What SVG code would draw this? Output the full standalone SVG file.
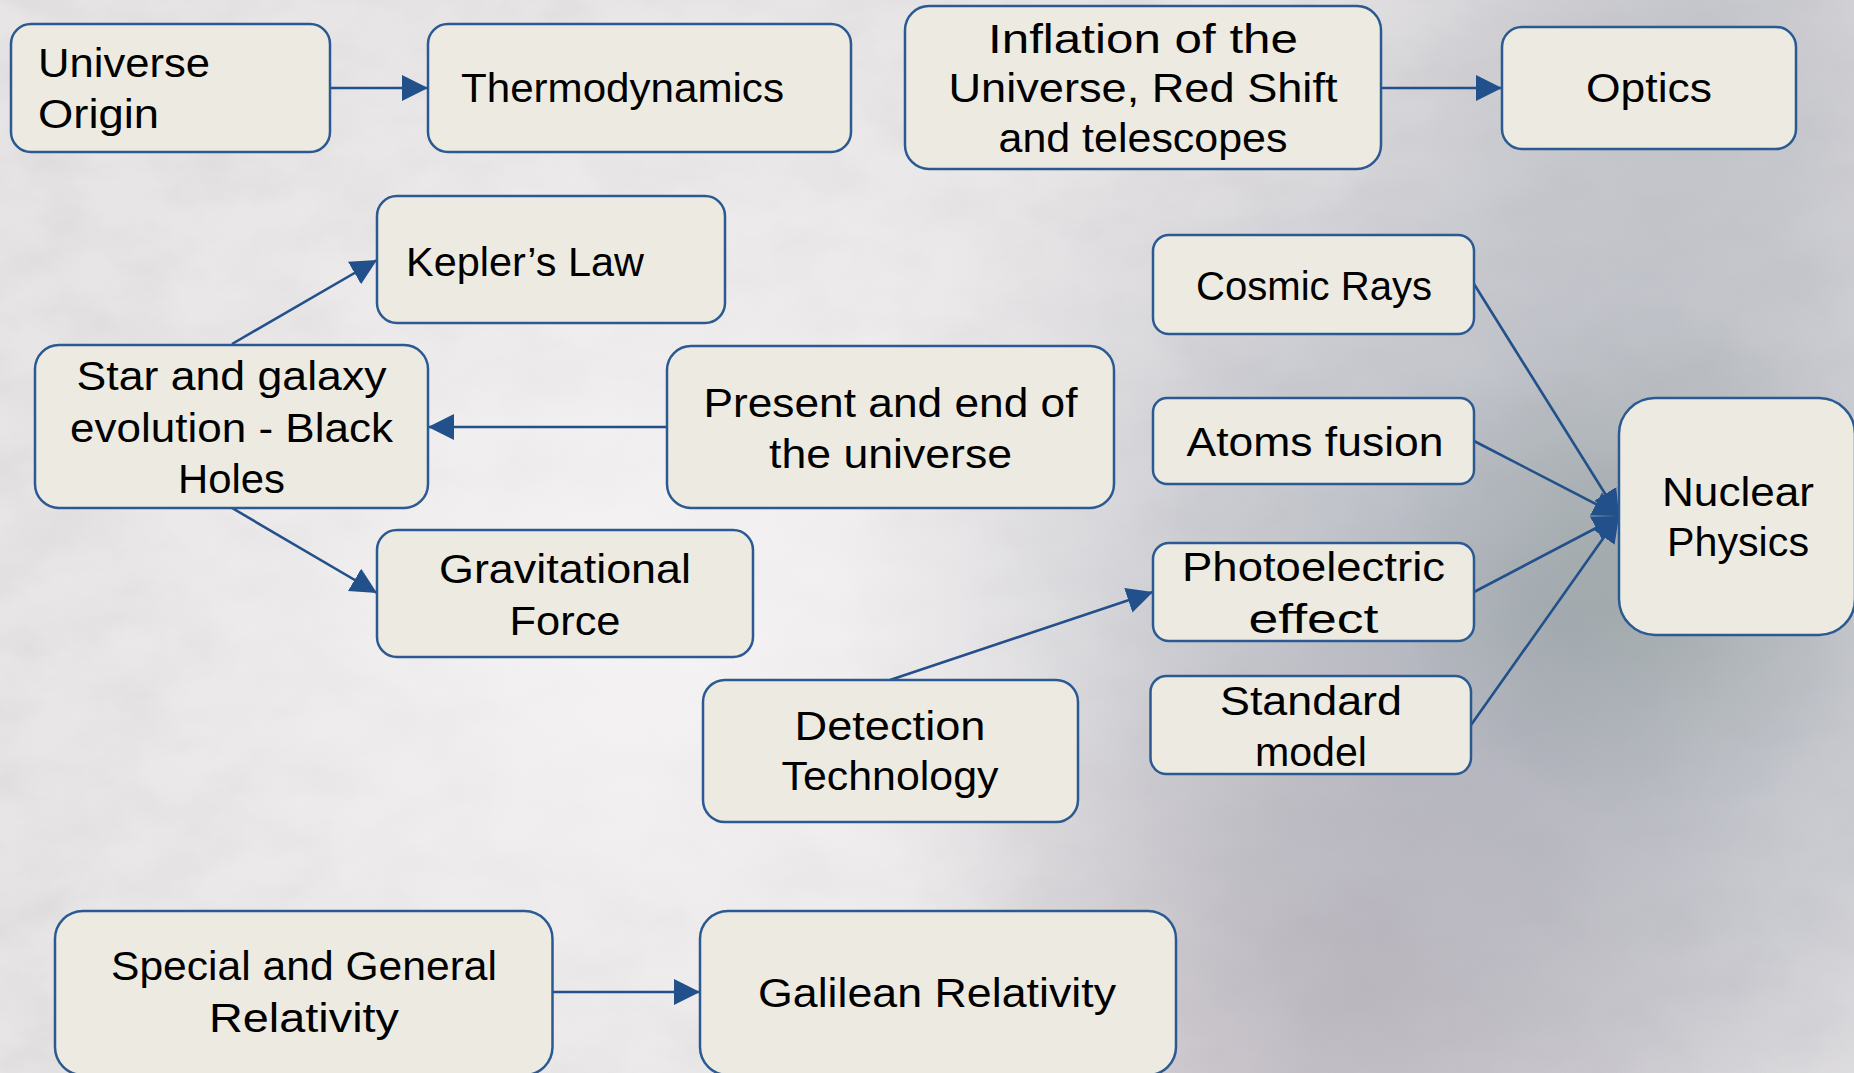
<svg xmlns="http://www.w3.org/2000/svg" width="1854" height="1073" viewBox="0 0 1854 1073">
  <defs>
    <style>
      .box { fill: #EDEBE1; stroke: #2B5A92; stroke-width: 2.5; }
      .lbl { font-family: "Liberation Sans", Arial, sans-serif; font-size: 41px; fill: #000; }
      .c { text-anchor: middle; }
      .conn { stroke: #22508A; stroke-width: 2.6; fill: none; marker-end: url(#arrow); }
    </style>
    <marker id="arrow" markerUnits="userSpaceOnUse" markerWidth="28" markerHeight="28" refX="26" refY="13" orient="auto">
      <path d="M0,0 L26,13 L0,26 z" fill="#22508A"/>
    </marker>
    <radialGradient id="bgRight" cx="1560" cy="620" r="720" gradientUnits="userSpaceOnUse">
      <stop offset="0" stop-color="#8F98A6" stop-opacity="0.7"/>
      <stop offset="0.55" stop-color="#A7ADB8" stop-opacity="0.4"/>
      <stop offset="1" stop-color="#C8C8CE" stop-opacity="0"/>
    </radialGradient>
    <radialGradient id="bgBR" cx="1350" cy="1000" r="450" gradientUnits="userSpaceOnUse">
      <stop offset="0" stop-color="#A49CA8" stop-opacity="0.5"/>
      <stop offset="1" stop-color="#A49CA8" stop-opacity="0"/>
    </radialGradient>
    <radialGradient id="bgTR" cx="1700" cy="60" r="380" gradientUnits="userSpaceOnUse">
      <stop offset="0" stop-color="#A6ABB4" stop-opacity="0.55"/>
      <stop offset="1" stop-color="#A6ABB4" stop-opacity="0"/>
    </radialGradient>
    <radialGradient id="bgGreen" cx="1650" cy="560" r="260" gradientUnits="userSpaceOnUse">
      <stop offset="0" stop-color="#8E9C94" stop-opacity="0.45"/>
      <stop offset="1" stop-color="#8E9C94" stop-opacity="0"/>
    </radialGradient>
    <radialGradient id="bgWhite" cx="650" cy="620" r="650" gradientUnits="userSpaceOnUse">
      <stop offset="0" stop-color="#F8F6F6" stop-opacity="0.85"/>
      <stop offset="1" stop-color="#F8F6F6" stop-opacity="0"/>
    </radialGradient>
    <filter id="noise" x="0" y="0" width="100%" height="100%">
      <feTurbulence type="fractalNoise" baseFrequency="0.012 0.02" numOctaves="4" seed="7" result="t"/>
      <feColorMatrix in="t" type="matrix" values="0 0 0 0 0.52  0 0 0 0 0.5  0 0 0 0 0.53  0 0 0 1.6 -0.55"/>
    </filter>
  </defs>

  <g id="background">
    <rect x="0" y="0" width="1854" height="1073" fill="#E8E5E6"/>
    <rect x="0" y="0" width="1854" height="1073" filter="url(#noise)" opacity="0.25"/>
    <rect x="0" y="0" width="1854" height="1073" fill="url(#bgWhite)"/>
    <rect x="0" y="0" width="1854" height="1073" fill="url(#bgRight)"/>
    <rect x="0" y="0" width="1854" height="1073" fill="url(#bgBR)"/>
    <rect x="0" y="0" width="1854" height="1073" fill="url(#bgTR)"/>
    <rect x="0" y="0" width="1854" height="1073" fill="url(#bgGreen)"/>
  </g>

  <g id="connectors">
    <line class="conn" x1="330" y1="88" x2="428" y2="88"/>
    <line class="conn" x1="1381" y1="88" x2="1502" y2="88"/>
    <line class="conn" x1="232" y1="344" x2="377" y2="260"/>
    <line class="conn" x1="232" y1="508" x2="377" y2="593"/>
    <line class="conn" x1="667" y1="427" x2="428" y2="427"/>
    <line class="conn" x1="890" y1="680" x2="1153" y2="592"/>
    <line class="conn" x1="1474" y1="284" x2="1619" y2="516"/>
    <line class="conn" x1="1474" y1="441" x2="1619" y2="516"/>
    <line class="conn" x1="1474" y1="592" x2="1619" y2="516"/>
    <line class="conn" x1="1471" y1="725" x2="1619" y2="516"/>
    <line class="conn" x1="552" y1="992" x2="700" y2="992"/>
  </g>

  <g id="universe-origin">
    <rect class="box" x="11" y="24" width="319" height="128" rx="20"/>
    <text class="lbl" x="38" y="77" textLength="172" lengthAdjust="spacingAndGlyphs">Universe</text>
    <text class="lbl" x="38" y="128" textLength="121" lengthAdjust="spacingAndGlyphs">Origin</text>
  </g>

  <g id="thermodynamics">
    <rect class="box" x="428" y="24" width="423" height="128" rx="20"/>
    <text class="lbl" x="461" y="102" textLength="323" lengthAdjust="spacingAndGlyphs">Thermodynamics</text>
  </g>

  <g id="inflation">
    <rect class="box" x="905" y="6" width="476" height="163" rx="24"/>
    <text class="lbl c" x="1143" y="53" textLength="310" lengthAdjust="spacingAndGlyphs">Inflation of the</text>
    <text class="lbl c" x="1143" y="102" textLength="389" lengthAdjust="spacingAndGlyphs">Universe, Red Shift</text>
    <text class="lbl c" x="1143" y="152" textLength="289" lengthAdjust="spacingAndGlyphs">and telescopes</text>
  </g>

  <g id="optics">
    <rect class="box" x="1502" y="27" width="294" height="122" rx="20"/>
    <text class="lbl c" x="1649" y="102" textLength="126" lengthAdjust="spacingAndGlyphs">Optics</text>
  </g>

  <g id="keplers-law">
    <rect class="box" x="377" y="196" width="348" height="127" rx="20"/>
    <text class="lbl" x="406" y="276" textLength="238" lengthAdjust="spacingAndGlyphs">Kepler’s Law</text>
  </g>

  <g id="star-galaxy">
    <rect class="box" x="35" y="345" width="393" height="163" rx="24"/>
    <text class="lbl c" x="231.5" y="390" textLength="310" lengthAdjust="spacingAndGlyphs">Star and galaxy</text>
    <text class="lbl c" x="231.5" y="442" textLength="323" lengthAdjust="spacingAndGlyphs">evolution - Black</text>
    <text class="lbl c" x="231.5" y="493" textLength="107" lengthAdjust="spacingAndGlyphs">Holes</text>
  </g>

  <g id="present-end">
    <rect class="box" x="667" y="346" width="447" height="162" rx="24"/>
    <text class="lbl c" x="890.5" y="417" textLength="374" lengthAdjust="spacingAndGlyphs">Present and end of</text>
    <text class="lbl c" x="890.5" y="468" textLength="243" lengthAdjust="spacingAndGlyphs">the universe</text>
  </g>

  <g id="gravitational-force">
    <rect class="box" x="377" y="530" width="376" height="127" rx="20"/>
    <text class="lbl c" x="565" y="583" textLength="252" lengthAdjust="spacingAndGlyphs">Gravitational</text>
    <text class="lbl c" x="565" y="635" textLength="111" lengthAdjust="spacingAndGlyphs">Force</text>
  </g>

  <g id="cosmic-rays">
    <rect class="box" x="1153" y="235" width="321" height="99" rx="16"/>
    <text class="lbl c" x="1314" y="299.5" textLength="236" lengthAdjust="spacingAndGlyphs">Cosmic Rays</text>
  </g>

  <g id="atoms-fusion">
    <rect class="box" x="1153" y="398" width="321" height="86" rx="14"/>
    <text class="lbl c" x="1315" y="456" textLength="257" lengthAdjust="spacingAndGlyphs">Atoms fusion</text>
  </g>

  <g id="photoelectric">
    <rect class="box" x="1153" y="543" width="321" height="98" rx="16"/>
    <text class="lbl c" x="1313.5" y="581" textLength="263" lengthAdjust="spacingAndGlyphs">Photoelectric</text>
    <text class="lbl c" x="1313.5" y="633" textLength="130" lengthAdjust="spacingAndGlyphs">effect</text>
  </g>

  <g id="standard-model">
    <rect class="box" x="1150.5" y="676" width="320.5" height="98" rx="16"/>
    <text class="lbl c" x="1311" y="714.5" textLength="182" lengthAdjust="spacingAndGlyphs">Standard</text>
    <text class="lbl c" x="1311" y="766" textLength="112" lengthAdjust="spacingAndGlyphs">model</text>
  </g>

  <g id="nuclear-physics">
    <rect class="box" x="1619" y="398" width="236" height="237" rx="36"/>
    <text class="lbl c" x="1738" y="506" textLength="152" lengthAdjust="spacingAndGlyphs">Nuclear</text>
    <text class="lbl c" x="1738" y="556" textLength="142" lengthAdjust="spacingAndGlyphs">Physics</text>
  </g>

  <g id="detection-technology">
    <rect class="box" x="703" y="680" width="375" height="142" rx="22"/>
    <text class="lbl c" x="890" y="740" textLength="191" lengthAdjust="spacingAndGlyphs">Detection</text>
    <text class="lbl c" x="890" y="790" textLength="217" lengthAdjust="spacingAndGlyphs">Technology</text>
  </g>

  <g id="special-general-relativity">
    <rect class="box" x="55" y="911" width="497.5" height="164" rx="28"/>
    <text class="lbl c" x="304" y="980" textLength="386" lengthAdjust="spacingAndGlyphs">Special and General</text>
    <text class="lbl c" x="304" y="1032" textLength="190" lengthAdjust="spacingAndGlyphs">Relativity</text>
  </g>

  <g id="galilean-relativity">
    <rect class="box" x="700" y="911" width="476" height="164" rx="28"/>
    <text class="lbl c" x="937" y="1007" textLength="358" lengthAdjust="spacingAndGlyphs">Galilean Relativity</text>
  </g>
</svg>
